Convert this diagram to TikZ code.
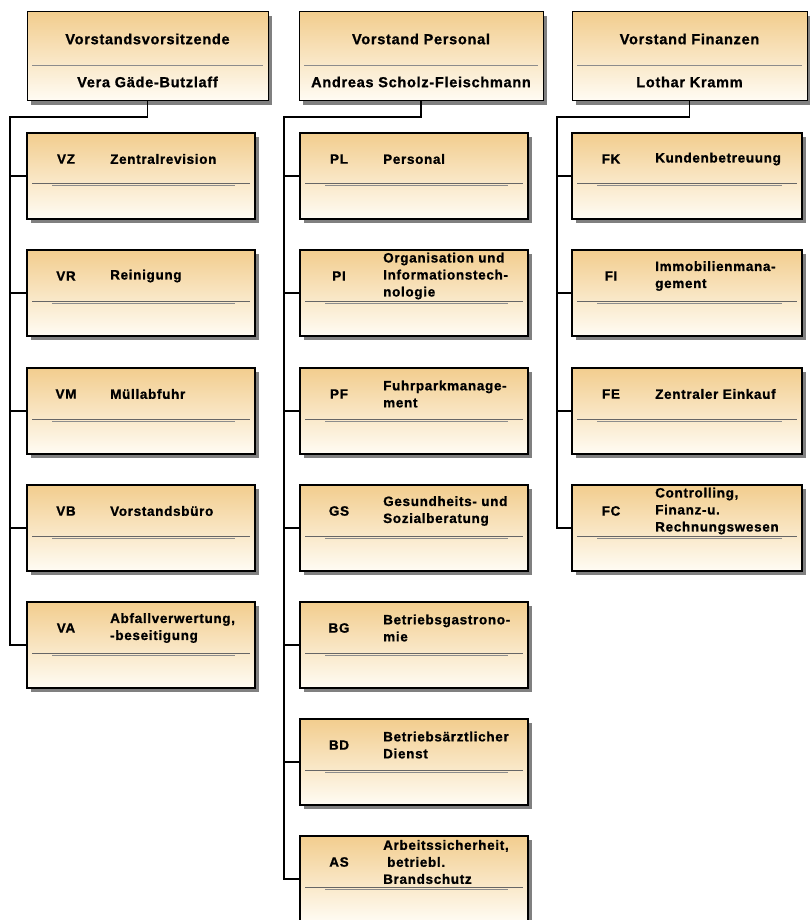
\documentclass[tikz,border=0pt]{standalone}
\usepackage{fontspec}
\setmainfont{Liberation Sans}
\newfontfamily\boxfont[LetterSpace=5,BoldFeatures={FakeBold=1}]{Liberation Sans}
\usetikzlibrary{shadows}
\definecolor{boxtop}{RGB}{242,205,142}
\definecolor{boxbot}{RGB}{255,252,244}
\tikzset{
  base/.style={draw=black, top color=boxtop, bottom color=boxbot,
    general shadow={fill=black!50, shadow xshift=4pt, shadow yshift=-4pt},
    anchor=north west, inner sep=0pt, outer sep=0pt},
  headbox/.style={base, line width=1pt, minimum height=89pt},
  subbox/.style={base, line width=2pt, minimum height=86pt},
  sepA/.style={draw=black!45, line width=1pt},
  sepB/.style={draw=black!60, line width=1pt},
  conn/.style={draw=black, line width=1.6pt},
  headtxt/.style={font=\boxfont\bfseries\fontsize{14.5}{17}\selectfont, inner sep=0pt},
  abtxt/.style={font=\boxfont\bfseries\fontsize{13.5}{17}\selectfont, inner sep=0pt},
  subtxt/.style={font=\boxfont\bfseries\fontsize{13.5}{17}\selectfont, align=left, anchor=west, inner sep=0pt},
}
% name, x, y, width, abbreviation, text
\newcommand\mysub[6]{%
  \node[subbox, minimum width=#4pt] (#1) at (#2,#3) {};
  \draw[sepB] ([xshift=5pt,yshift=-51pt]#1.north west) -- ([xshift=-5pt,yshift=-51pt]#1.north east);
  \draw[sepA] ([xshift=25pt,yshift=-53pt]#1.north west) -- ([xshift=-20pt,yshift=-53pt]#1.north east);
  \node[abtxt] (#1-ab) at ([xshift=39pt,yshift=-26pt]#1.north west) {#5};
  \node[subtxt] (#1-tx) at ([xshift=83pt,yshift=-26pt]#1.north west) {#6};
}
% name, x, width, title, person
\newcommand\myhead[5]{%
  \node[headbox, minimum width=#3pt] (#1) at (#2,12) {};
  \draw[sepA] ([xshift=5pt,yshift=-54pt]#1.north west) -- ([xshift=-5pt,yshift=-54pt]#1.north east);
  \node[headtxt] (#1-ti) at ([yshift=-27pt]#1.north) {#4};
  \node[headtxt] (#1-pe) at ([yshift=-70pt]#1.north) {#5};
}
\begin{document}
\begin{tikzpicture}[x=1pt, y=-1pt]
\useasboundingbox (0,0) rectangle (809,920);

\myhead{h1}{27}{241}{Vorstandsvorsitzende}{Vera Gäde-Butzlaff}
\myhead{h2}{299}{244}{Vorstand Personal}{Andreas Scholz-Fleischmann}
\myhead{h3}{572}{235}{Vorstand Finanzen}{Lothar Kramm}

% column 1
\mysub{vz}{27}{133}{228}{VZ}{Zentralrevision}
\mysub{vr}{27}{250}{228}{VR}{Reinigung}
\mysub{vm}{27}{368}{228}{VM}{Müllabfuhr}
\mysub{vb}{27}{485}{228}{VB}{Vorstandsbüro}
\mysub{va}{27}{602}{228}{VA}{Abfallverwertung,\\-beseitigung}

% column 2
\mysub{pl}{300}{133}{228}{PL}{Personal}
\mysub{pi}{300}{250}{228}{PI}{Organisation und\\Informationstech-\\nologie}
\mysub{pf}{300}{368}{228}{PF}{Fuhrparkmanage-\\ment}
\mysub{gs}{300}{485}{228}{GS}{Gesundheits- und\\Sozialberatung}
\mysub{bg}{300}{602}{228}{BG}{Betriebsgastrono-\\mie}
\mysub{bd}{300}{719}{228}{BD}{Betriebsärztlicher\\Dienst}
\mysub{as}{300}{836}{228}{AS}{Arbeitssicherheit,\\\hspace*{4pt}betriebl.\\Brandschutz}

% column 3
\mysub{fk}{572}{133}{230}{FK}{Kundenbetreuung}
\mysub{fi}{572}{250}{230}{FI}{Immobilienmana-\\gement}
\mysub{fe}{572}{368}{230}{FE}{Zentraler Einkauf}
\mysub{fc}{572}{485}{230}{FC}{Controlling,\\Finanz-u.\\Rechnungswesen}

% connectors
\coordinate (s1) at (10,117);
\coordinate (s2) at (284,117);
\coordinate (s3) at (557,117);

\draw[conn] (h1.south) |- (s1) |- (va.west);
\foreach \b in {vz,vr,vm,vb}{\draw[conn] (s1 |- \b.west) -- (\b.west);}

\draw[conn] (h2.south) |- (s2) |- (as.west);
\foreach \b in {pl,pi,pf,gs,bg,bd}{\draw[conn] (s2 |- \b.west) -- (\b.west);}

\draw[conn] (h3.south) |- (s3) |- (fc.west);
\foreach \b in {fk,fi,fe}{\draw[conn] (s3 |- \b.west) -- (\b.west);}
\end{tikzpicture}
\end{document}
